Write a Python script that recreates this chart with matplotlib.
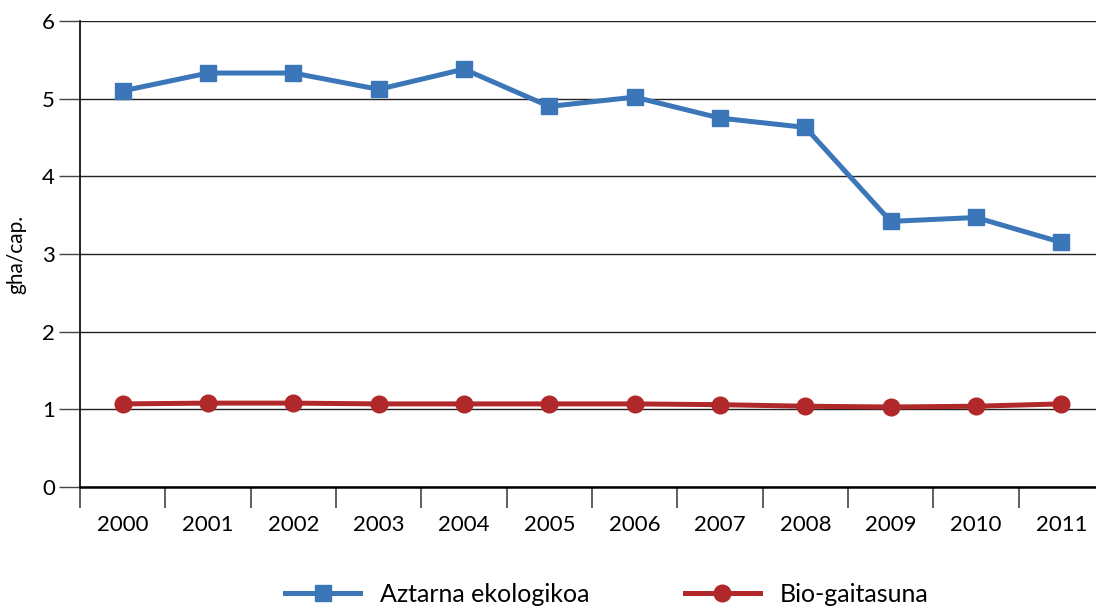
import matplotlib.pyplot as plt
import numpy as np

# Datos
anios = ["2000", "2001", "2002", "2003", "2004", "2005",
         "2006", "2007", "2008", "2009", "2010", "2011"]
aztarna = [5.10, 5.33, 5.33, 5.12, 5.38, 4.90, 5.02, 4.75, 4.63, 3.42, 3.47, 3.15]
biogaitasuna = [1.07, 1.08, 1.08, 1.07, 1.07, 1.07, 1.07, 1.06, 1.04, 1.03, 1.04, 1.07]

azul = "#3b76b9"
rojo = "#b0282a"

plt.rcParams["font.family"] = ["Lato", "DejaVu Sans"]

fig = plt.figure(figsize=(10.96, 6.08), dpi=100)
ax = fig.add_axes([80 / 1096, 121 / 608, 1024 / 1096, 466 / 608])

x = np.arange(len(anios))

ax.plot(x, aztarna, color=azul, lw=3.6, marker="s", ms=11,
        label="Aztarna ekologikoa", clip_on=False, zorder=3)
ax.plot(x, biogaitasuna, color=rojo, lw=3.6, marker="o", ms=12,
        label="Bio-gaitasuna", clip_on=False, zorder=3)

ax.set_xlim(-0.5, len(anios) - 0.5)
ax.set_ylim(0, 6)
ax.set_yticks(range(0, 7))
ax.yaxis.grid(True, color="#222222", lw=1)
ax.set_axisbelow(True)

ax.set_xticks(x)
ax.set_xticklabels(anios, fontsize=16)
ax.tick_params(axis="x", length=0, pad=20)
ax.set_xticks(np.arange(-0.5, len(anios)), minor=True)
ax.tick_params(axis="x", which="minor", length=15, width=1.2, color="#444444",
               direction="out")
ax.tick_params(axis="y", length=15, width=1, color="#444444", labelsize=16,
               pad=3)

for lado in ["top", "right"]:
    ax.spines[lado].set_visible(False)
ax.spines["left"].set_linewidth(1.2)
ax.spines["bottom"].set_linewidth(1.8)

ax.set_ylabel("gha/cap.", fontsize=15)
ax.yaxis.set_label_coords(-54 / 1024, 0.5)

fig.legend(loc="center left", bbox_to_anchor=(285 / 1096, 1 - 594 / 608),
           ncol=2, frameon=False, fontsize=18, handlelength=3.0,
           columnspacing=3.8, handletextpad=0.8, borderpad=0,
           borderaxespad=0)

fig.savefig("out.png", dpi=100)
